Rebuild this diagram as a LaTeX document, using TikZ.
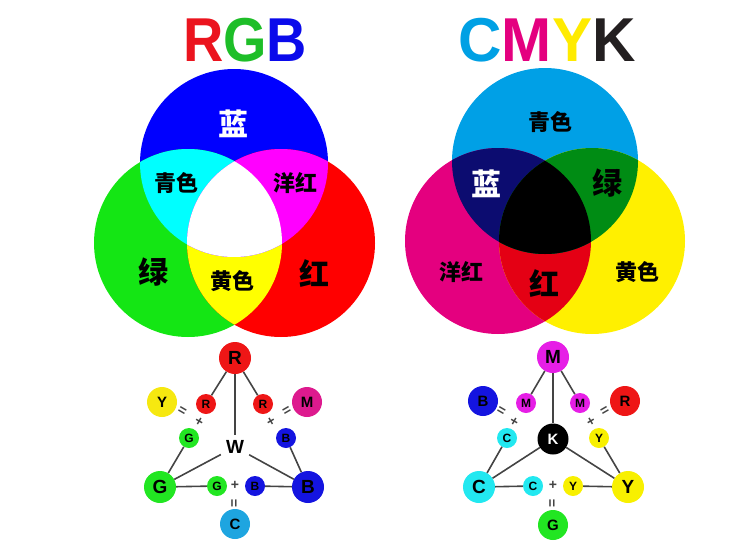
\documentclass[tikz,border=0pt]{standalone}
\usepackage{fontspec}
\setmainfont{Liberation Sans}
\newfontfamily\cjk{Noto Sans CJK SC}

\definecolor{tR}{RGB}{235,20,30}
\definecolor{tG}{RGB}{30,190,40}
\definecolor{tB}{RGB}{10,10,235}
\definecolor{tC}{RGB}{0,160,228}
\definecolor{tM}{RGB}{228,0,127}
\definecolor{tY}{RGB}{255,235,0}
\definecolor{tK}{RGB}{35,31,32}
\definecolor{vRed}{RGB}{255,0,0}
\definecolor{vGreen}{RGB}{20,230,20}
\definecolor{vBlue}{RGB}{0,0,255}
\definecolor{vCyan}{RGB}{0,255,255}
\definecolor{vMagenta}{RGB}{255,0,255}
\definecolor{vYellow}{RGB}{255,255,0}
\definecolor{pCyan}{RGB}{0,160,230}
\definecolor{pMagenta}{RGB}{228,0,127}
\definecolor{pYellow}{RGB}{255,240,0}
\definecolor{pNavy}{RGB}{12,12,112}
\definecolor{pGreen}{RGB}{0,140,20}
\definecolor{pRed}{RGB}{228,0,20}
\definecolor{dR}{RGB}{238,22,22}
\definecolor{dG}{RGB}{34,230,34}
\definecolor{dB}{RGB}{20,20,224}
\definecolor{dY}{RGB}{246,232,16}
\definecolor{dM}{RGB}{221,26,142}
\definecolor{dC}{RGB}{30,165,224}
\definecolor{kM}{RGB}{230,30,230}
\definecolor{kC}{RGB}{34,232,240}
\definecolor{kY}{RGB}{248,240,0}
\definecolor{linkgray}{RGB}{68,68,68}

\tikzset{
  title/.style={inner sep=0pt,font=\bfseries\fontsize{62}{62}\selectfont},
  venn/.style={inner sep=0pt,font=\cjk\bfseries\fontsize{22}{22}\selectfont},
  vennbig/.style={inner sep=0pt,font=\cjk\bfseries\fontsize{30}{30}\selectfont},
  big/.style={circle,inner sep=0pt,minimum size=32pt,font=\bfseries\fontsize{19}{19}\selectfont},
  mix/.style={circle,inner sep=0pt,minimum size=30pt,font=\bfseries\fontsize{15}{15}\selectfont},
  small/.style={circle,inner sep=0pt,minimum size=20pt,font=\bfseries\fontsize{12}{12}\selectfont},
  hub/.style={inner sep=5pt,font=\bfseries\fontsize{19}{19}\selectfont},
  sign/.style={inner sep=0pt,text=linkgray,font=\bfseries\fontsize{14}{14}\selectfont},
  link/.style={draw=linkgray,line width=1.6pt}
}

\begin{document}
\begin{tikzpicture}[x=1pt,y=-1pt]
\useasboundingbox (0,0) rectangle (754,546);

\node[title] (rgb) at (245,40) {\scalebox{0.9}[1]{\color{tR}R\color{tG}G\color{tB}B}};
\node[title] (cmyk) at (547,40) {\scalebox{0.97}[1]{\color{tC}C\color{tM}M\color{tY}Y\color{tK}K}};

\fill[vBlue] (234,163) circle (94);
\fill[vGreen] (188,243) circle (94);
\fill[vRed] (281,243) circle (94);
\begin{scope}
  \clip (188,243) circle (94);
  \fill[vYellow] (281,243) circle (94);
\end{scope}
\begin{scope}
  \clip (234,163) circle (94);
  \fill[vCyan] (188,243) circle (94);
  \fill[vMagenta] (281,243) circle (94);
  \clip (188,243) circle (94);
  \fill[white] (281,243) circle (94);
\end{scope}

\node[vennbig,text=white] (lan1) at (233,124) {蓝};
\node[venn] (qing1) at (176,183) {青色};
\node[venn] (yang1) at (295,183) {洋红};
\node[vennbig] (lv1) at (153,272) {绿};
\node[venn] (huang1) at (232,281) {黄色};
\node[vennbig] (hong1) at (314,274) {红};

\fill[pCyan] (545,161) circle (93);
\fill[pMagenta] (498,241) circle (93);
\fill[pYellow] (592,241) circle (93);
\begin{scope}
  \clip (498,241) circle (93);
  \fill[pRed] (592,241) circle (93);
\end{scope}
\begin{scope}
  \clip (545,161) circle (93);
  \fill[pNavy] (498,241) circle (93);
  \fill[pGreen] (592,241) circle (93);
  \clip (498,241) circle (93);
  \fill[black] (592,241) circle (93);
\end{scope}

\node[venn] (qing2) at (550,122) {青色};
\node[vennbig,text=white] (lan2) at (486,184) {蓝};
\node[vennbig] (lv2) at (607,183) {绿};
\node[venn] (yang2) at (461,272) {洋红};
\node[vennbig] (hong2) at (544,284) {红};
\node[venn] (huang2) at (637,272) {黄色};

\node[big,fill=dR] (R) at (235,358) {R};
\node[big,fill=dG] (G) at (160,487) {G};
\node[big,fill=dB] (B) at (308,487) {B};
\node[hub] (W) at (235,447) {W};
\node[small,fill=dR] (r1) at (206,404) {R};
\node[small,fill=dR] (r2) at (263,404) {R};
\node[small,fill=dG] (g1) at (189,438) {G};
\node[small,fill=dB] (b1) at (286,438) {B};
\node[small,fill=dG] (g2) at (217,486) {G};
\node[small,fill=dB] (b2) at (255,486) {B};
\node[mix,fill=dY] (Y) at (162,402) {Y};
\node[mix,fill=dM] (M) at (307,402) {M};
\node[mix,fill=dC] (C) at (235,524) {C};
\node[sign,rotate=-30] (p1) at (199,422) {+};
\node[sign,rotate=-30] (e1) at (182,411) {=};
\node[sign,rotate=30] (p2) at (271,422) {+};
\node[sign,rotate=30] (e2) at (287,411) {=};
\node[sign] (p3) at (235,485) {+};
\node[sign,rotate=90] (e3) at (235,503) {=};
\path[link] (R) edge (r1) edge (r2) edge (W)
  (G) edge (g1) edge (g2) edge (W)
  (B) edge (b1) edge (b2) edge (W);

\node[big,fill=kM] (cM) at (553,357) {M};
\node[big,fill=kC] (cC) at (479,487) {C};
\node[big,fill=kY] (cY) at (628,487) {Y};
\node[mix,fill=black,text=white,minimum size=31pt] (cK) at (553,439) {K};
\node[small,fill=kM] (m1) at (526,403) {M};
\node[small,fill=kM] (m2) at (580,403) {M};
\node[small,fill=kC] (c1) at (507,438) {C};
\node[small,fill=kY] (y1) at (599,438) {Y};
\node[small,fill=kC] (c2) at (533,486) {C};
\node[small,fill=kY] (y2) at (573,486) {Y};
\node[mix,fill=dB] (cB) at (483,401) {B};
\node[mix,fill=dR] (cR) at (625,401) {R};
\node[mix,fill=dG] (cG) at (553,525) {G};
\node[sign,rotate=-30] (q1) at (514,422) {+};
\node[sign,rotate=-30] (f1) at (501,411) {=};
\node[sign,rotate=30] (q2) at (591,422) {+};
\node[sign,rotate=30] (f2) at (605,411) {=};
\node[sign] (q3) at (553,485) {+};
\node[sign,rotate=90] (f3) at (553,503) {=};
\path[link] (cM) edge (m1) edge (m2) edge (cK)
  (cC) edge (c1) edge (c2) edge (cK)
  (cY) edge (y1) edge (y2) edge (cK);
\end{tikzpicture}
\end{document}
